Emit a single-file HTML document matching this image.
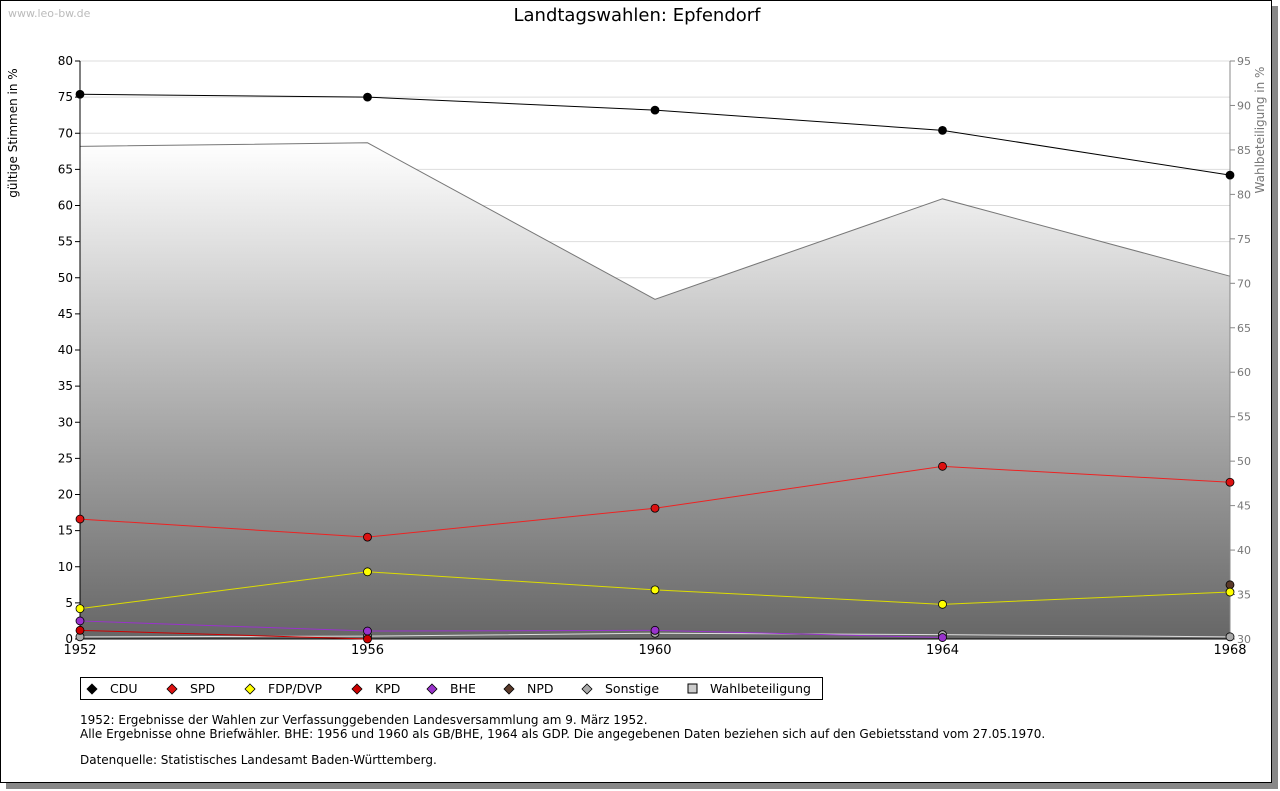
<!DOCTYPE html>
<html><head><meta charset="utf-8">
<style>
body{margin:0;background:#fff;font-family:"DejaVu Sans",sans-serif;}
#frame{position:absolute;left:0;top:0;width:1272px;height:783px;border:1px solid #000;box-sizing:border-box;background:#fff;box-shadow:6px 6px 0 #888;}
svg text{font-family:"DejaVu Sans",sans-serif;}
</style></head><body>
<div id="frame"></div>
<svg id="chart" width="1280" height="791" style="position:absolute;left:0;top:0">
<defs><linearGradient id="g" x1="0" y1="0" x2="0" y2="1"><stop offset="0" stop-color="#ffffff"/><stop offset="1" stop-color="#666666"/></linearGradient></defs>
</svg>
<script>
const years=[1952,1956,1960,1964,1968];
const cdu=[75.4,75.0,73.2,70.4,64.2];
const spd=[16.6,14.1,18.1,23.9,21.7];
const fdp=[4.2,9.3,6.8,4.8,6.5];
const kpd=[1.2,0,null,null,null];
const bhe=[2.5,1.1,1.2,0.2,null];
const npd=[null,null,null,null,7.5];
const sonst=[0.3,0.4,0.8,0.6,0.3];
const wahl=[85.4,85.8,68.2,79.5,70.8];
const leftTicks=[0,5,10,15,20,25,30,35,40,45,50,55,60,65,70,75,80];
const rightTicks=[30,35,40,45,50,55,60,65,70,75,80,85,90,95];
const NS='http://www.w3.org/2000/svg';
const svg=document.getElementById('chart');
const X0=80,X1=1230,Y0=639,Y1=61;
const x=v=>X0+(v-1952)/(1968-1952)*(X1-X0);
const y=v=>Y0-v/80*(Y0-Y1);
const yr=v=>Y0-(v-30)/65*(Y0-Y1);
function el(t,a,txt){const e=document.createElementNS(NS,t);for(const k in a)e.setAttribute(k,a[k]);if(txt!=null)e.textContent=txt;svg.appendChild(e);return e;}
let e;
e=el('text',{x:8,y:17,'font-size':11,fill:'#bbb'},'www.leo-bw.de');


e=el('text',{x:637,y:21,'font-size':18,'text-anchor':'middle'},'Landtagswahlen: Epfendorf');


leftTicks.forEach(t=>{
 const l=el('line',{x1:X0,x2:X1,y1:y(t),y2:y(t),stroke:'#ddd'});
 
 
 const tl=el('line',{x1:X0-5,x2:X0,y1:y(t),y2:y(t),stroke:'#000'});
 
 
 const tx=el('text',{x:X0-7,y:y(t)+4,'font-size':12,'text-anchor':'end'},t);
 
 
});
let d='M'+x(years[0])+','+Y0;
years.forEach((yv,i)=>d+=' L'+x(yv)+','+yr(wahl[i]));
d+=' L'+x(years[years.length-1])+','+Y0+' Z';
e=el('path',{d:d,fill:'url(#g)',stroke:'none'});


e=el('polyline',{points:years.map((yv,i)=>x(yv)+','+yr(wahl[i])).join(' '),fill:'none',stroke:'#777'});


rightTicks.forEach(t=>{
 const tl=el('line',{x1:X1,x2:X1+5,y1:yr(t),y2:yr(t),stroke:'#888'});
 
 
 const tx=el('text',{x:X1+7,y:yr(t)+4,'font-size':11,fill:'#777'},t);
 
 
});
e=el('line',{x1:X0,x2:X0,y1:Y1,y2:Y0,stroke:'#000'});


e=el('line',{x1:X1,x2:X1,y1:Y1,y2:Y0,stroke:'#888'});


e=el('line',{x1:X0,x2:X1,y1:Y0,y2:Y0,stroke:'#000'});


years.forEach(yv=>{
 const tx=el('text',{x:x(yv),y:654,'font-size':13,'text-anchor':'middle'},yv);
 
 
});
e=el('text',{x:0,y:0,'font-size':12,'text-anchor':'middle',transform:'translate(17,133) rotate(-90)'},'gültige Stimmen in %');


e=el('text',{x:0,y:0,'font-size':12,'text-anchor':'middle',fill:'#777',transform:'translate(1264,130) rotate(-90)'},'Wahlbeteiligung in %');


const series=[[sonst,'#aaa','#ddd','sonstige'],[npd,'#5a3a2a','#5a3a2a','npd'],[bhe,'#9933cc','#9933cc','bhe'],[kpd,'#cc0000','#cc0000','kpd'],[fdp,'#ffff00','#dddd00','fdp'],[spd,'#dd1111','#ee2222','spd'],[cdu,'#000','#000','cdu']];
function dia(cx,cy,fill){return el('path',{d:`M${cx},${cy-5} L${cx+5},${cy} L${cx},${cy+5} L${cx-5},${cy} Z`,fill:fill,stroke:'#000','stroke-width':0.8});}
series.forEach(([vals,col,lc,name])=>{
 const pts=[];vals.forEach((v,i)=>{if(v!=null)pts.push(x(years[i])+','+y(v));});
 if(pts.length>1){const p=el('polyline',{points:pts.join(' '),fill:'none',stroke:lc,'stroke-width':1});
 
 }
 vals.forEach((v,i)=>{if(v==null)return;
  const m=el('circle',{cx:x(years[i]),cy:y(v),r:4,fill:col,stroke:'#000','stroke-width':0.8});
  
  });
});
e=el('rect',{x:80.5,y:677.5,width:742,height:22,fill:'#fff',stroke:'#000'});


const leg=[['CDU','#000',92],['SPD','#dd1111',172],['FDP/DVP','#ffff00',250],['KPD','#cc0000',357],['BHE','#9933cc',432],['NPD','#5a3a2a',509],['Sonstige','#aaa',587]];
leg.forEach(([n,c,lx])=>{
 const m=dia(lx,689,c);
 
 const t=el('text',{x:lx+18,y:693,'font-size':12.5},n);
 
 
});
e=el('rect',{x:688,y:684,width:9,height:9,fill:'#ccc',stroke:'#000'});


e=el('text',{x:710,y:693,'font-size':12.5},'Wahlbeteiligung');


const notes=[['1952: Ergebnisse der Wahlen zur Verfassunggebenden Landesversammlung am 9. März 1952.',724],['Alle Ergebnisse ohne Briefwähler. BHE: 1956 und 1960 als GB/BHE, 1964 als GDP. Die angegebenen Daten beziehen sich auf den Gebietsstand vom 27.05.1970.',738],['Datenquelle: Statistisches Landesamt Baden-Württemberg.',764]];
notes.forEach(([t,ny])=>{const n=el('text',{x:80,y:ny,'font-size':12},t);
 
 });
</script>
</body></html>
